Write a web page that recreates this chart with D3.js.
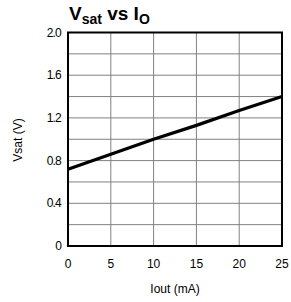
<!DOCTYPE html>
<html>
<head>
<meta charset="utf-8">
<script src="https://cdn.jsdelivr.net/npm/d3@7"></script>
<style>
  body { margin: 0; background: #fff; }
  text { font-family: "Liberation Sans", Arial, sans-serif; }
</style>
</head>
<body>
<div id="chart"></div>
<script>
// Data
const ioutMA = [0, 5, 10, 15, 20, 25];
const vsat = [0.72, 0.86, 1.0, 1.13, 1.27, 1.40];
const xTicks = [0, 5, 10, 15, 20, 25];
const yTicks = [0, 0.4, 0.8, 1.2, 1.6, 2.0];
const yGrid = d3.range(0, 2.01, 0.2);

const W = 291, H = 302;
const plotL = 68, plotR = 282, plotT = 32.5, plotB = 246;

const svg = d3.select("#chart").append("svg")
  .attr("width", W).attr("height", H);

const x = d3.scaleLinear().domain([0, 25]).range([plotL, plotR]);
const y = d3.scaleLinear().domain([0, 2]).range([plotB, plotT]);

// grid
svg.append("g").selectAll("line")
  .data(yGrid)
  .join("line")
  .attr("x1", plotL).attr("x2", plotR)
  .attr("y1", d => y(d)).attr("y2", d => y(d))
  .attr("stroke", "#808080").attr("stroke-width", 1);

svg.append("g").selectAll("line")
  .data(xTicks)
  .join("line")
  .attr("x1", d => x(d)).attr("x2", d => x(d))
  .attr("y1", plotT).attr("y2", plotB)
  .attr("stroke", "#808080").attr("stroke-width", 1);

// frame
svg.append("rect")
  .attr("x", plotL).attr("y", plotT)
  .attr("width", plotR - plotL).attr("height", plotB - plotT)
  .attr("fill", "none").attr("stroke", "#000").attr("stroke-width", 2);

// curve
const line = d3.line().x((d, i) => x(ioutMA[i])).y(d => y(d));
svg.append("path")
  .attr("d", line(vsat))
  .attr("fill", "none").attr("stroke", "#000").attr("stroke-width", 3.2);

// tick labels
svg.append("g").selectAll("text")
  .data(yTicks)
  .join("text")
  .attr("x", 61).attr("y", d => y(d) + 4)
  .attr("text-anchor", "end")
  .attr("font-size", 12)
  .attr("letter-spacing", -0.8)
  .text(d => d === 0 ? "0" : d3.format(".1f")(d));

svg.append("g").selectAll("text")
  .data(xTicks)
  .join("text")
  .attr("x", d => x(d)).attr("y", 268)
  .attr("text-anchor", "middle")
  .attr("font-size", 12)
  .text(d => d);

// axis titles
svg.append("text")
  .attr("x", 175).attr("y", 293)
  .attr("text-anchor", "middle")
  .attr("font-size", 12)
  .text("Iout (mA)");

svg.append("text")
  .attr("transform", "translate(22,140) rotate(-90)")
  .attr("text-anchor", "middle")
  .attr("font-size", 12)
  .text("Vsat (V)");

// title
const title = svg.append("text")
  .attr("x", 69).attr("y", 20)
  .attr("font-size", 19).attr("font-weight", "bold");
title.append("tspan").text("V");
title.append("tspan").attr("font-size", 14).attr("dy", 4).text("sat");
title.append("tspan").attr("dy", -4).text(" vs I");
title.append("tspan").attr("font-size", 14).attr("dy", 4).text("O");
</script>
</body>
</html>
